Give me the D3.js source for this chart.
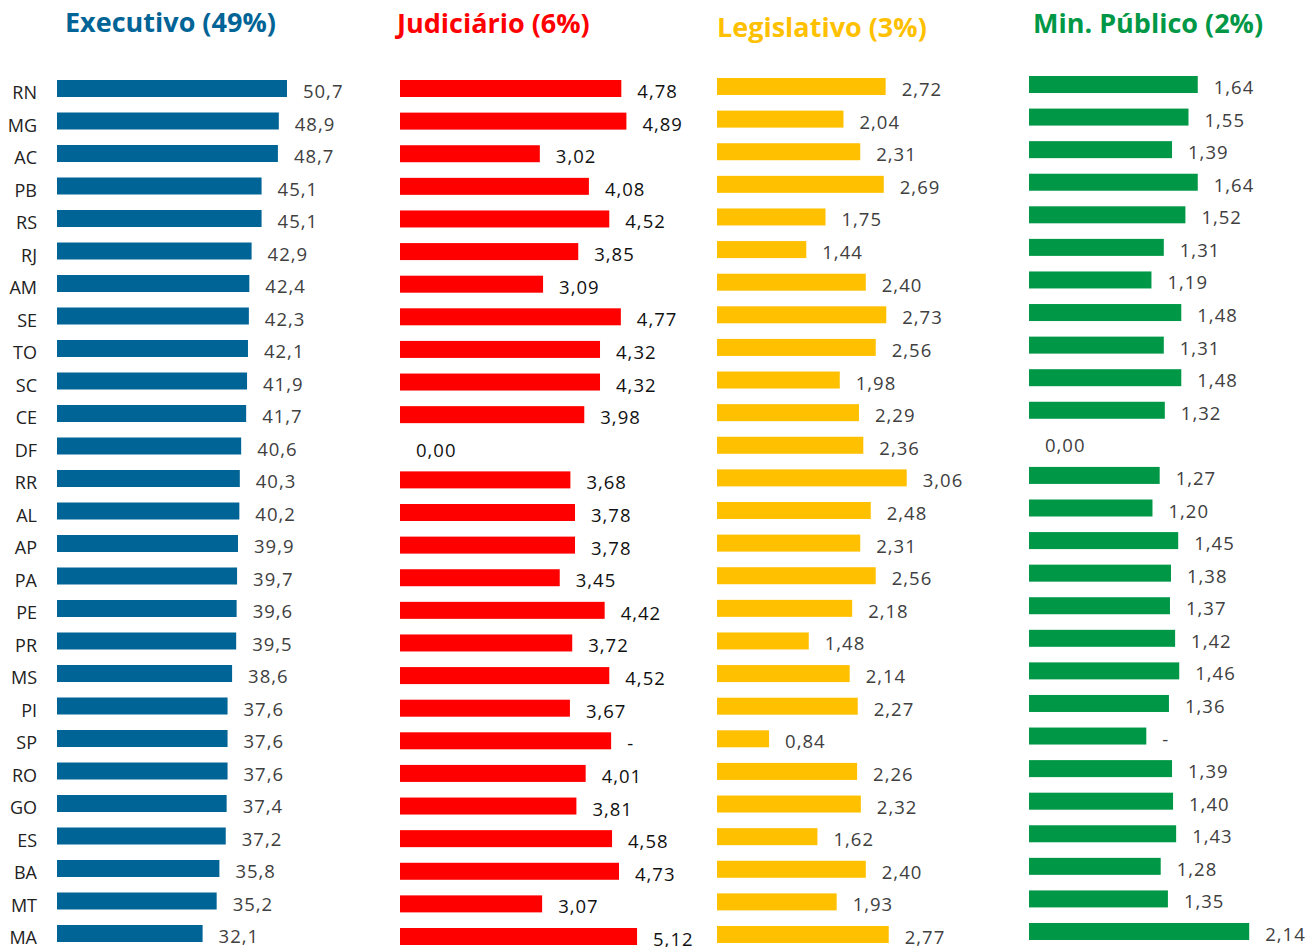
<!DOCTYPE html>
<html>
<head>
<meta charset="utf-8">
<script src="https://cdn.jsdelivr.net/npm/d3@7"></script>
<style>
  html, body { margin: 0; padding: 0; background: #fff; }
  svg { display: block; }
</style>
</head>
<body>
<script>
// Estados, na ordem do ranking do Executivo
const states = ["RN","MG","AC","PB","RS","RJ","AM","SE","TO","SC","CE","DF","RR","AL","AP","PA","PE","PR","MS","PI","SP","RO","GO","ES","BA","MT","MA"];

// Valores por poder
const executivo = [50.7,48.9,48.7,45.1,45.1,42.9,42.4,42.3,42.1,41.9,41.7,40.6,40.3,40.2,39.9,39.7,39.6,39.5,38.6,37.6,37.6,37.6,37.4,37.2,35.8,35.2,32.1];
const judiciario = [4.78,4.89,3.02,4.08,4.52,3.85,3.09,4.77,4.32,4.32,3.98,0.00,3.68,3.78,3.78,3.45,4.42,3.72,4.52,3.67,4.56,4.01,3.81,4.58,4.73,3.07,5.12];
const legislativo = [2.72,2.04,2.31,2.69,1.75,1.44,2.40,2.73,2.56,1.98,2.29,2.36,3.06,2.48,2.31,2.56,2.18,1.48,2.14,2.27,0.84,2.26,2.32,1.62,2.40,1.93,2.77];
const minPublico = [1.64,1.55,1.39,1.64,1.52,1.31,1.19,1.48,1.31,1.48,1.32,0.00,1.27,1.20,1.45,1.38,1.37,1.42,1.46,1.36,1.14,1.39,1.40,1.43,1.28,1.35,2.14];

// Rótulos que não mostram o número (SP sem dado informado)
const labelOverrides = {
  judiciario: { SP: "-" },
  minPublico: { SP: "-" }
};

const titles = ["Executivo (49%)", "Judiciário (6%)", "Legislativo (3%)", "Min. Público (2%)"];

const W = 1311, H = 947;
const svg = d3.select("body").append("svg").attr("width", W).attr("height", H);

const fmt = (v, dec) => v.toFixed(dec).replace(".", ",");

// pxPerUnit: comprimento da barra por unidade de valor em cada painel
const panels = [
  { key: "executivo", title: titles[0], values: executivo, dec: 1, color: "#006496", labelColor: "#404040",
    x0: 57, pxPerUnit: 4.536, top: 80, bottom: 925, titleX: 65, titleY: 32 },
  { key: "judiciario", title: titles[1], values: judiciario, dec: 2, color: "#FF0000", labelColor: "#111111",
    x0: 400, pxPerUnit: 46.3, top: 80, bottom: 928, titleX: 397, titleY: 33 },
  { key: "legislativo", title: titles[2], values: legislativo, dec: 2, color: "#FFC000", labelColor: "#404040",
    x0: 717, pxPerUnit: 62.0, top: 78, bottom: 926, titleX: 717, titleY: 37 },
  { key: "minPublico", title: titles[3], values: minPublico, dec: 2, color: "#009846", labelColor: "#404040",
    x0: 1029, pxPerUnit: 102.9, top: 76, bottom: 923, titleX: 1033, titleY: 33 }
];

const barH = 17;

panels.forEach(p => {
  const data = states.map((s, i) => ({ state: s, value: p.values[i] }));
  const vmax = d3.max(p.values);
  const x = d3.scaleLinear().domain([0, vmax]).range([p.x0, p.x0 + vmax * p.pxPerUnit]);
  const y = d3.scalePoint().domain(states).range([p.top, p.bottom]);
  const g = svg.append("g");

  g.append("text")
    .attr("x", p.titleX).attr("y", p.titleY)
    .attr("fill", p.color)
    .style("font-family", "'Open Sans', sans-serif")
    .style("font-weight", 700)
    .style("font-size", "27px")
    .text(p.title);

  g.selectAll("rect").data(data.filter(d => d.value > 0)).join("rect")
    .attr("x", x(0))
    .attr("y", d => y(d.state))
    .attr("width", d => x(d.value) - x(0))
    .attr("height", barH)
    .attr("fill", p.color);

  const ov = labelOverrides[p.key] || {};
  g.selectAll("text.val").data(data).join("text")
    .attr("class", "val")
    .attr("x", d => x(d.value) + 16)
    .attr("y", d => y(d.state) + 18)
    .attr("fill", p.labelColor)
    .style("font-family", "'Open Sans', sans-serif")
    .style("font-size", "18.5px")
    .style("letter-spacing", "1px")
    .text(d => ov[d.state] !== undefined ? ov[d.state] : fmt(d.value, p.dec));

  if (p.key === "executivo") {
    const axis = d3.axisLeft(y).tickSize(0).tickPadding(0);
    const ag = g.append("g").attr("transform", "translate(37,0)").call(axis);
    ag.select(".domain").remove();
    ag.selectAll("text")
      .attr("dy", null)
      .attr("y", 18.5)
      .attr("fill", "#222")
      .style("font-family", "'Open Sans', sans-serif")
      .style("font-size", "18px");
  }
});
</script>
</body>
</html>
